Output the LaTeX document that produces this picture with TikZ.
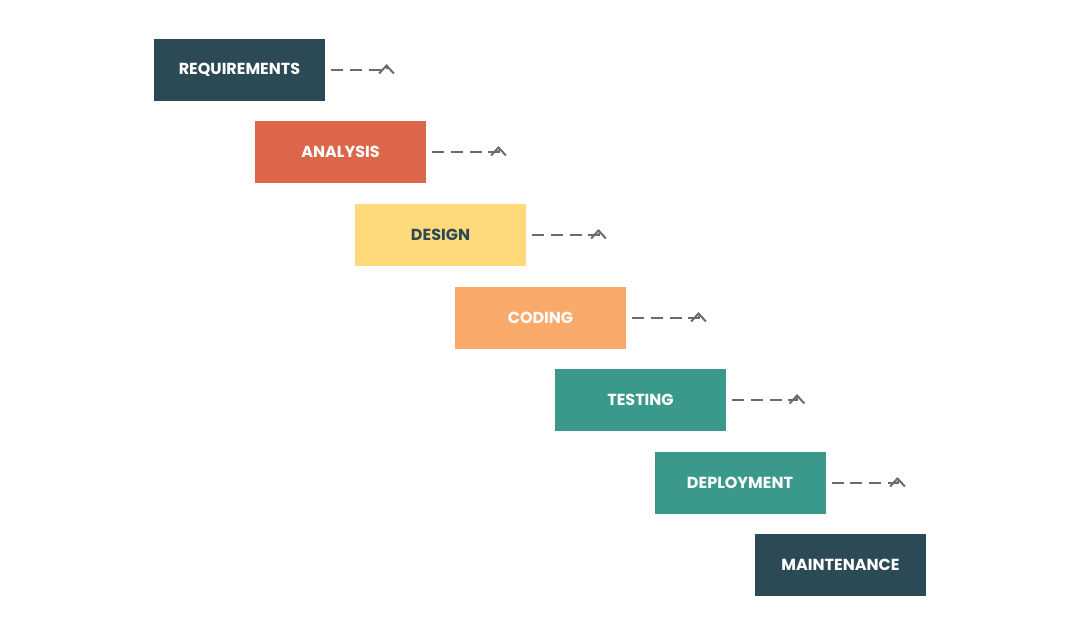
\documentclass[tikz,border=0pt]{standalone}
\usepackage{fontspec}
\setmainfont{Poppins}
\usetikzlibrary{arrows.meta}
\definecolor{cdark}{HTML}{2C4A56}
\definecolor{cred}{HTML}{DC6649}
\definecolor{cyel}{HTML}{FFDA7B}
\definecolor{cpeach}{HTML}{F9A96A}
\definecolor{cteal}{HTML}{3A998B}
\definecolor{cline}{HTML}{6B6B6B}
\begin{document}
\begin{tikzpicture}[x=0.75pt,y=-0.75pt,
  stage/.style={minimum width=128.25pt,minimum height=46.5pt,inner sep=0pt,text=white,font=\bfseries\fontsize{12}{14}\selectfont},
  flow/.style={draw=cline,line width=1.5pt,dash pattern=on 9pt off 5pt,-{Straight Barb[length=6pt,width=11pt,line width=1.5pt]}}]
\useasboundingbox (0,0) rectangle (1080,635);
\node[stage,fill=cdark] (r) at (239.5,70) {REQUIREMENTS};
\node[stage,fill=cred] (a) at (340.5,152) {ANALYSIS};
\node[stage,fill=cyel,text=cdark] (d) at (440.5,235) {DESIGN};
\node[stage,fill=cpeach] (c) at (540.5,318) {CODING};
\node[stage,fill=cteal] (t) at (640.5,400) {TESTING};
\node[stage,fill=cteal] (p) at (740,483) {DEPLOYMENT};
\node[stage,fill=cdark] (m) at (840.5,565) {MAINTENANCE};
\foreach \u/\v/\ox in {r/a/46,a/d/58,d/c/58,c/t/58,t/p/57,p/m/57}{
  \draw[flow] ([xshift=4.5pt]\u.east) -| ([xshift=\ox*0.75pt-85.5pt*0+0pt,yshift=4.5pt]\u.east -| \v.north) ;
}
\end{tikzpicture}
\end{document}
